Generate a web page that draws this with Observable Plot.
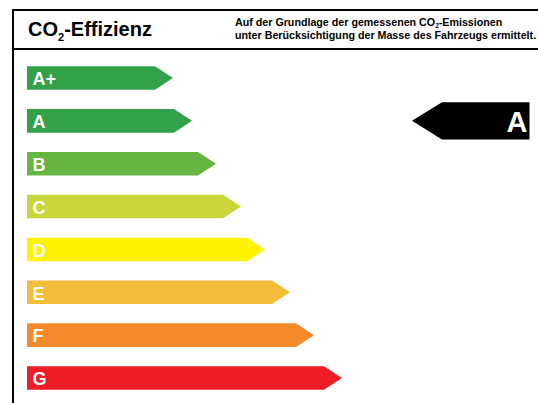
<!DOCTYPE html>
<html>
<head>
<meta charset="utf-8">
<script src="https://cdn.jsdelivr.net/npm/d3@7"></script>
<script src="https://cdn.jsdelivr.net/npm/@observablehq/plot@0.6"></script>
<style>
  html, body { margin: 0; padding: 0; background: #fff; }
  body { width: 538px; height: 403px; overflow: hidden; position: relative; font-family: "Liberation Sans", Arial, sans-serif; }
  #frame { position: absolute; left: 12px; top: 9px; width: 540px; height: 400px; border-left: 2px solid #000; border-top: 2px solid #000; }
  #header { position: relative; height: 37px; border-bottom: 2px solid #000; }
  #title { position: absolute; left: 14px; top: 7px; font-size: 20px; font-weight: bold; line-height: 22px; color: #000; white-space: nowrap; }
  #title sub { font-size: 11px; vertical-align: -5px; line-height: 0; }
  #note { position: absolute; left: 221px; top: 5px; font-size: 10.7px; font-weight: bold; line-height: 13px; color: #000; white-space: nowrap; }
  #note sub { font-size: 6.5px; vertical-align: -2px; line-height: 0; }
  #chart { position: absolute; left: 0; top: 39px; }
</style>
</head>
<body>
<div id="frame">
  <div id="header">
    <div id="title">CO<sub>2</sub>-Effizienz</div>
    <div id="note">Auf der Grundlage der gemessenen CO<sub>2</sub>-Emissionen<br>unter Berücksichtigung der Masse des Fahrzeugs ermittelt.</div>
  </div>
  <div id="chart"></div>
</div>
<script>
// Efficiency classes, bar lengths (arbitrary units), colours
const classes = ["A+", "A", "B", "C", "D", "E", "F", "G"];
const lengths = [146, 165, 189, 214, 238, 263, 287, 315];
const colors  = ["#33a04a", "#33a04a", "#66b441", "#c8d63a", "#fff200", "#f3bd3a", "#f58a2a", "#ed1c27"];
const rating  = "A";

const halfH = 0.275;   // half bar height in row units
const tip = 18;        // arrow tip depth in x units

const bars = classes.flatMap((c, i) => [
  {c, y: i - halfH, x1: 0, x2: lengths[i] - tip},
  {c, y: i,         x1: 0, x2: lengths[i]},
  {c, y: i + halfH, x1: 0, x2: lengths[i] - tip}
]);

const r = classes.indexOf(rating);
const ind = { left: 385, body: 415, right: 502.5, half: 0.437 };
const marker = [
  {y: r - ind.half, x1: ind.body, x2: ind.right},
  {y: r,            x1: ind.left, x2: ind.right},
  {y: r + ind.half, x1: ind.body, x2: ind.right}
];

const labels = classes.map((c, i) => ({c, i}));

const chart = Plot.plot({
  width: 524,
  height: 353,
  marginTop: 0, marginBottom: 0, marginRight: 0, marginLeft: 13,
  style: { fontFamily: "Liberation Sans, Arial, sans-serif", background: "white" },
  x: { domain: [0, 511], axis: null },
  y: { domain: [0, 7], range: [28, 328], axis: null },
  color: { domain: classes, range: colors },
  marks: [
    Plot.areaX(bars, { x1: "x1", x2: "x2", y: "y", z: "c", fill: "c" }),
    Plot.text(labels, { x: () => 5, y: "i", text: "c", fill: "white", fontWeight: "bold", fontSize: 18, textAnchor: "start", dy: 1 }),
    Plot.areaX(marker, { x1: "x1", x2: "x2", y: "y", fill: "black" }),
    Plot.text([{c: rating, i: r}], { x: () => 500, y: "i", text: "c", fill: "white", fontWeight: "bold", fontSize: 29, textAnchor: "end", dy: 1 })
  ]
});
document.getElementById("chart").appendChild(chart);
</script>
</body>
</html>
